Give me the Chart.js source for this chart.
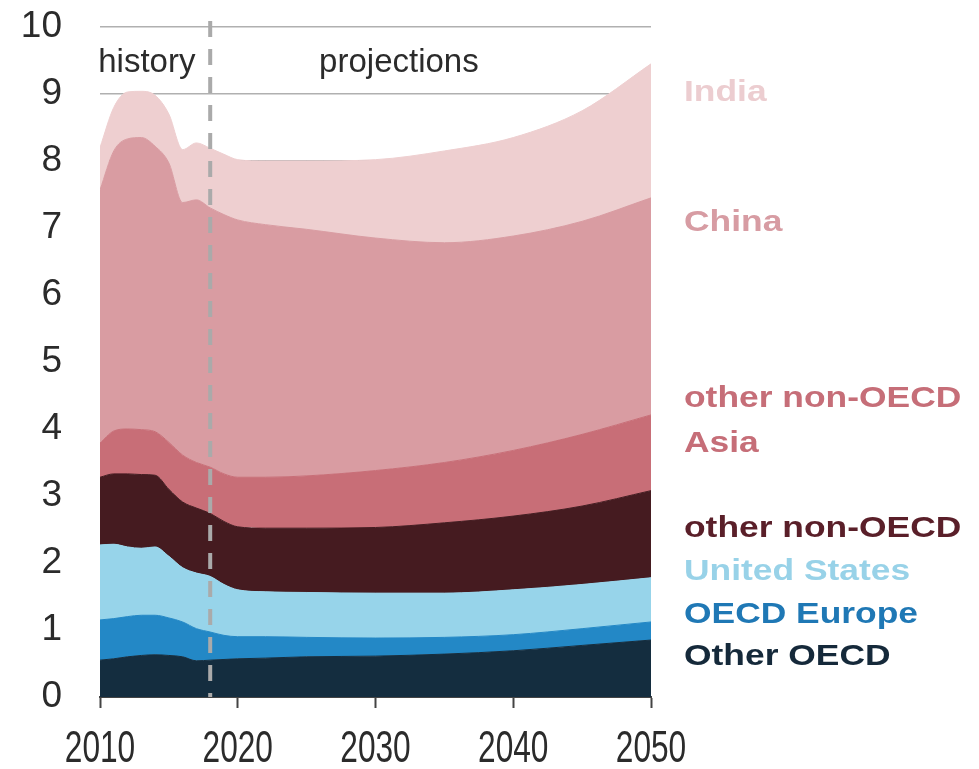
<!DOCTYPE html>
<html>
<head>
<meta charset="utf-8">
<script src="https://cdn.jsdelivr.net/npm/chart.js@4.4.1/dist/chart.umd.min.js"></script>
<style>
    html, body { margin: 0; padding: 0; background: #fff; }
    #wrap { width: 979px; height: 769px; position: relative; }
</style>
</head>
<body>
<div id="wrap"><canvas id="energyChart"></canvas></div>
<script>
// Years (denser in the history part)
const years = [2010, 2011, 2012, 2013, 2014, 2015, 2016, 2017, 2018, 2019, 2020, 2022, 2025, 2030, 2035, 2040, 2045, 2050];

// Layer thickness per region (stacked bottom to top)
const otherOecd    = [0.55, 0.57, 0.60, 0.62, 0.63, 0.62, 0.60, 0.54, 0.55, 0.56, 0.57, 0.58, 0.60, 0.61, 0.64, 0.69, 0.77, 0.85];
const oecdEurope   = [0.60, 0.60, 0.60, 0.60, 0.59, 0.56, 0.52, 0.48, 0.42, 0.36, 0.33, 0.32, 0.29, 0.27, 0.25, 0.24, 0.25, 0.27];
const unitedStates = [1.12, 1.11, 1.04, 1.00, 1.02, 0.92, 0.81, 0.83, 0.83, 0.76, 0.70, 0.67, 0.67, 0.67, 0.66, 0.67, 0.66, 0.66];
const otherNonOecd = [1.01, 1.05, 1.09, 1.10, 1.07, 1.00, 0.98, 0.97, 0.94, 0.94, 0.94, 0.95, 0.96, 0.98, 1.05, 1.10, 1.17, 1.30];
const otherAsia    = [0.51, 0.64, 0.67, 0.67, 0.65, 0.70, 0.70, 0.68, 0.69, 0.71, 0.74, 0.76, 0.78, 0.85, 0.90, 0.98, 1.07, 1.13];
const china        = [3.78, 4.18, 4.33, 4.36, 4.26, 4.17, 3.77, 3.92, 3.87, 3.87, 3.84, 3.77, 3.68, 3.47, 3.28, 3.20, 3.18, 3.24];
const india        = [0.63, 0.65, 0.70, 0.69, 0.76, 0.73, 0.79, 0.85, 0.89, 0.90, 0.90, 0.95, 1.02, 1.17, 1.37, 1.47, 1.65, 2.00];

const seriesNames  = ['Other OECD', 'OECD Europe', 'United States', 'other non-OECD', 'other non-OECD Asia', 'China', 'India'];
const seriesValues = [otherOecd, oecdEurope, unitedStates, otherNonOecd, otherAsia, china, india];
const fillColors   = ['#142d3f', '#2388c6', '#97d4ea', '#451b20', '#c86e77', '#d99ca2', '#eecfd0'];
const textColors   = ['#15293a', '#1f78b5', '#98d2e8', '#5a1f29', '#c66e78', '#d79ca3', '#eccdd0'];

const xTicks = [2010, 2020, 2030, 2040, 2050];
const yTicks = [0, 1, 2, 3, 4, 5, 6, 7, 8, 9, 10];
const dividerYear = 2018;

// Right-hand labels: lines and the value they sit at
const sideLabels = [
    { lines: ['India'], at: 9.06, series: 6 },
    { lines: ['China'], at: 7.12, series: 5 },
    { lines: ['other non-OECD', 'Asia'], at: 4.49, series: 4 },
    { lines: ['other non-OECD'], at: 2.55, series: 3 },
    { lines: ['United States'], at: 1.91, series: 2 },
    { lines: ['OECD Europe'], at: 1.27, series: 1 },
    { lines: ['Other OECD'], at: 0.64, series: 0 }
];

const FONT = "'Liberation Sans', Arial, sans-serif";

// Divider, period captions, x labels and series labels
const overlayPlugin = {
    id: 'overlay',
    afterDatasetsDraw(chart) {
        const { ctx, chartArea, scales: { x, y } } = chart;
        ctx.save();

        // dashed history / projections divider
        const dx = x.getPixelForValue(dividerYear);
        ctx.strokeStyle = '#aaaaaa';
        ctx.lineWidth = 4;
        ctx.setLineDash([16, 12]);
        ctx.beginPath();
        ctx.moveTo(dx, chartArea.top - 6);
        ctx.lineTo(dx, chartArea.bottom);
        ctx.stroke();
        ctx.setLineDash([]);

        // period captions
        ctx.fillStyle = '#2b2b2b';
        ctx.font = '33px ' + FONT;
        ctx.textAlign = 'center';
        ctx.textBaseline = 'middle';
        ctx.fillText('history', x.getPixelForValue(2013.4), y.getPixelForValue(9.5) + 2);
        ctx.fillText('projections', x.getPixelForValue(2031.7), y.getPixelForValue(9.5) + 2);

        // x tick labels (condensed, as in the source)
        ctx.font = '44px ' + FONT;
        ctx.fillStyle = '#2b2b2b';
        xTicks.forEach(t => {
            ctx.save();
            ctx.translate(x.getPixelForValue(t), chartArea.bottom + 53);
            ctx.scale(0.72, 1);
            ctx.fillText(String(t), 0, 0);
            ctx.restore();
        });

        // series labels on the right
        ctx.font = 'bold 30px ' + FONT;
        ctx.textAlign = 'left';
        sideLabels.forEach(lbl => {
            ctx.fillStyle = textColors[lbl.series];
            lbl.lines.forEach((line, i) => {
                ctx.save();
                ctx.translate(chartArea.right + 33, y.getPixelForValue(lbl.at) + 3 + i * 45);
                ctx.scale(1.18, 1);
                ctx.fillText(line, 0, 0);
                ctx.restore();
            });
        });

        ctx.restore();
    }
};

const datasets = seriesNames.map((name, i) => ({
    label: name,
    data: years.map((yr, k) => ({ x: yr, y: seriesValues[i][k] })),
    backgroundColor: fillColors[i],
    borderColor: fillColors[i],
    borderWidth: 1,
    fill: i === 0 ? 'origin' : '-1',
    pointRadius: 0,
    cubicInterpolationMode: 'monotone'
}));

const ctx = document.getElementById('energyChart').getContext('2d');
new Chart(ctx, {
    type: 'line',
    data: { datasets },
    options: {
        responsive: true,
        maintainAspectRatio: false,
        animation: false,
        layout: { padding: { top: 27, right: 328, bottom: 0, left: 0 } },
        plugins: {
            legend: { display: false },
            tooltip: { enabled: false }
        },
        scales: {
            x: {
                type: 'linear',
                min: 2010,
                max: 2050,
                afterBuildTicks: s => { s.ticks = xTicks.map(v => ({ value: v })); },
                afterFit: s => { s.height = 72; s.paddingLeft = 0; s.paddingRight = 0; },
                ticks: { display: false },
                grid: { drawOnChartArea: false, drawTicks: true, tickLength: 11, tickWidth: 2, color: '#444' },
                border: { display: true, color: '#444', width: 2 }
            },
            y: {
                stacked: true,
                min: 0,
                max: 10,
                afterBuildTicks: s => { s.ticks = yTicks.map(v => ({ value: v })); },
                afterFit: s => { s.width = 100; s.paddingTop = 0; s.paddingBottom = 0; },
                ticks: { padding: 38, color: '#2b2b2b', font: { family: FONT, size: 37 } },
                grid: { color: '#b0b0b0', lineWidth: 1.5, drawTicks: false },
                border: { display: false }
            }
        }
    },
    plugins: [overlayPlugin]
});
</script>
</body>
</html>
